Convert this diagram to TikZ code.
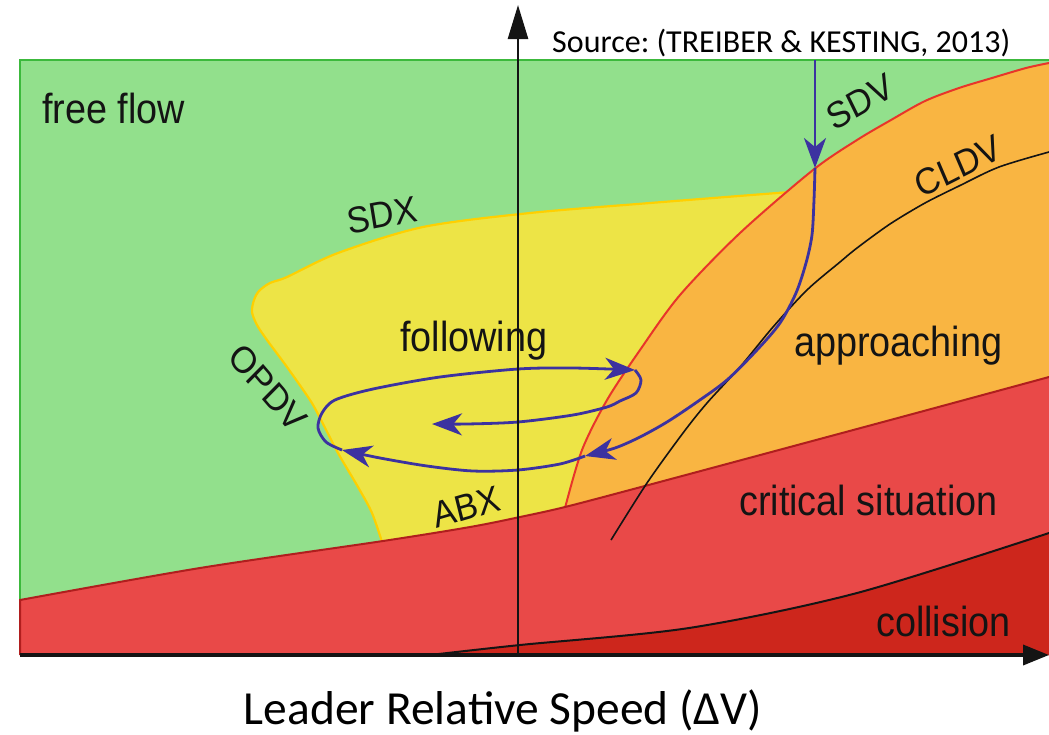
\documentclass[tikz,border=0pt]{standalone}
\usepackage{fontspec}
\usetikzlibrary{arrows.meta}
\newfontfamily\plotfont{Liberation Sans}
\newfontfamily\notefont{Carlito}
\definecolor{ffgreen}{HTML}{92E08C}
\definecolor{framegreen}{HTML}{3CB93C}
\definecolor{followyellow}{HTML}{EDE446}
\definecolor{followedge}{HTML}{FFD000}
\definecolor{approachorange}{HTML}{F9B542}
\definecolor{sdvred}{HTML}{E8352A}
\definecolor{critred}{HTML}{E94948}
\definecolor{critedge}{HTML}{B01E1E}
\definecolor{collred}{HTML}{CD261C}
\definecolor{trajblue}{HTML}{3C32A0}
\definecolor{inkblack}{HTML}{141414}
\frenchspacing
\begin{document}
\begin{tikzpicture}[x=1pt,y=-1pt,
  regionlabel/.style={font=\fontsize{42}{42}\selectfont\plotfont, text=inkblack, inner sep=0pt, xscale=0.9},
  linelabel/.style={font=\fontsize{37}{37}\selectfont\plotfont, text=inkblack, inner sep=0pt, xscale=0.92},
  traj/.style={draw=trajblue, line width=2.8pt, -{Stealth[length=30pt,width=22pt,inset=9pt]}},
  axisline/.style={draw=inkblack}]
\useasboundingbox (0,0) rectangle (1049,734);
\fill[white] (0,0) rectangle (1049,734);

% free flow background
\fill[ffgreen] (20,60) rectangle (1049,655);

% following region, bounded by OPDV and SDX
\fill[followyellow] plot[smooth] coordinates {(383,545) (372,513) (358,487) (338,453) (320,418) (310,400) (287,367) (267,340) (257,325) (252,312) (254,300) (259,291) (270,283) (287,277) (338,253) (423,227) (530,213) (650,203) (790,192)}
  -- (800,192) -- (570,545) -- cycle;
\draw[followedge, line width=2.2pt] plot[smooth] coordinates {(383,545) (372,513) (358,487) (338,453) (320,418) (310,400) (287,367) (267,340) (257,325) (252,312) (254,300) (259,291) (270,283) (287,277) (338,253) (423,227) (530,213) (650,203) (790,192)};

% approaching region, bounded by SDV
\fill[approachorange] (556,545) -- plot[smooth] coordinates {(565,508) (582,450) (607,400) (640,350) (680,295) (740,233) (813,170) (857,140) (891,120) (925,101) (959,88) (992,78) (1026,68) (1049,63)}
  -- (1049,560) -- cycle;
\draw[sdvred, line width=2pt] plot[smooth] coordinates {(565,508) (582,450) (607,400) (640,350) (680,295) (740,233) (813,170) (857,140) (891,120) (925,101) (959,88) (992,78) (1026,68) (1049,63)};

% frame of the free flow area
\draw[framegreen, line width=2.4pt] (20,600) -- (20,60) -- (1049,60);

% critical situation
\fill[critred] plot[smooth] coordinates {(20,600) (200,568) (383,541) (470,527) (520,517) (565,507) (641,487) (790,447) (920,412) (1049,377)}
  -- (1049,655) -- (20,655) -- cycle;
\draw[critedge, line width=2pt] (20,655) -- plot[smooth] coordinates {(20,600) (200,568) (383,541) (470,527) (520,517) (565,507) (641,487) (790,447) (920,412) (1049,377)};

% collision
\fill[collred] plot[smooth] coordinates {(430,655) (520,645) (689,628) (857,593) (1049,533)} -- (1049,655) -- cycle;
\draw[inkblack, line width=2pt] plot[smooth] coordinates {(430,655) (520,645) (689,628) (857,593) (1049,533)};

% CLDV line
\draw[inkblack, line width=1.6pt] plot[smooth] coordinates {(611,540) (647,483) (683,433) (707,403) (740,367) (773,327) (807,290) (840,262) (857,248) (890,224) (925,203) (959,186) (999,167) (1049,152)};

% region and boundary labels
\node[regionlabel, anchor=base west] (lff) at (42,123) {free flow};
\node[regionlabel, anchor=base west] (lfol) at (400,351) {following};
\node[regionlabel, anchor=base west] (lapp) at (794,356) {approaching};
\node[regionlabel, anchor=base west] (lcrit) at (739,515) {critical situation};
\node[regionlabel, anchor=base west] (lcol) at (876,636) {collision};
\node[linelabel, rotate=10] (lsdx) at (382,215) {SDX};
\node[linelabel, rotate=28] (lsdv) at (860,102) {SDV};
\node[linelabel, rotate=25] (lcldv) at (958,166) {CLDV};
\node[linelabel, rotate=15] (labx) at (466,507) {ABX};
\node[linelabel, rotate=-47] (lopdv) at (268,388) {OPDV};

% trajectory
\coordinate (p0) at (815,60);
\coordinate (p1) at (815,168);
\coordinate (p2) at (585,456);
\coordinate (p3) at (342,450);
\coordinate (p4) at (635,370);
\coordinate (p5) at (432,424);
\draw[traj] (p0) -- (p1);
\draw[traj] plot[smooth] coordinates {(p1) (814,200) (812,235) (806,263) (796,293) (780,323) (757,350) (727,380) (697,402) (667,422) (640,437) (615,448) (p2)};
\draw[traj] plot[smooth] coordinates {(p2) (560,464) (518,470) (473,471) (427,466) (380,458) (p3)};
\draw[traj] plot[smooth] coordinates {(p3) (326,442) (318,428) (322,413) (335,400) (373,389) (440,377) (518,369) (573,368) (p4)};
\draw[traj] plot[smooth] coordinates {(p4) (641,380) (636,393) (620,401) (607,407) (573,415) (518,422) (467,424) (p5)};

% axes
\coordinate (origin) at (518,655);
\coordinate (ytop) at (518,5);
\coordinate (xleft) at (20,655);
\coordinate (xright) at (1049,655);
\draw[axisline, line width=2.6pt, -{Triangle[length=34pt,width=20pt]}] (origin) -- (ytop);
\draw[axisline, line width=3.6pt, -{Triangle[length=26pt,width=20pt]}] (xleft) -- (xright);

% source and axis caption
\node[anchor=base west, font=\fontsize{32}{32}\selectfont\notefont, inner sep=0pt] (src) at (552,52) {Source: (TREIBER \& KESTING, 2013)};
\node[anchor=base, font=\fontsize{47.5}{48}\selectfont\notefont, inner sep=0pt] (xcap) at (503,724) {Leader Relative Speed (ΔV)};
\end{tikzpicture}
\end{document}
